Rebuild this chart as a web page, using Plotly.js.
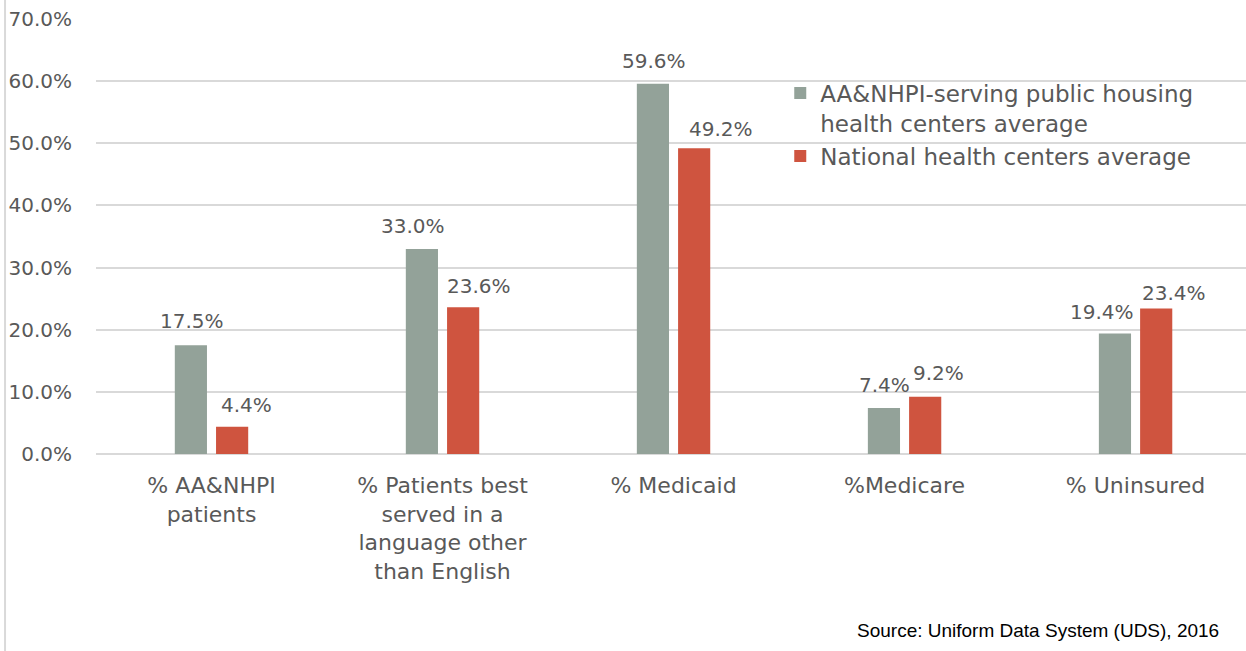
<!DOCTYPE html>
<html>
<head>
<meta charset="utf-8">
<script src="https://cdn.plot.ly/plotly-3.0.1.min.js"></script>
<style>
html,body{margin:0;padding:0;background:#fff;}
#chart{width:1246px;height:651px;}
</style>
</head>
<body>
<div id="chart"></div>
<script>
const categories = [
  "% AA&NHPI<br>patients",
  "% Patients best<br>served in a<br>language other<br>than English",
  "% Medicaid",
  "%Medicare",
  "% Uninsured"
];
const seriesNames = [
  "AA&NHPI-serving public housing<br>health centers average",
  "National health centers average"
];
const aanhpiValues = [17.5, 33.0, 59.6, 7.4, 19.4];
const nationalValues = [4.4, 23.6, 49.2, 9.2, 23.4];
const yTicks = [0, 10, 20, 30, 40, 50, 60, 70];
const sourceText = "Source: Uniform Data System (UDS), 2016";

const FONT = "DejaVu Sans, sans-serif";
const TXT = "#595959";
const COLORS = ["#93A299", "#CF543F"];

// label placement styling (pixel nudges relative to each bar centre / top)
const labelStyle = [
  {bar: -20.5, dx: [1, -9, 1, 0, -13], gap: [18, 17, 17, 17, 15]},
  {bar: 20.5, dx: [14, 16, 27, 13, 18], gap: [16, 15, 13, 18, 10]}
];

const series = [aanhpiValues, nationalValues];
const data = series.map((vals, s) => ({
  type: "bar",
  name: seriesNames[s],
  x: categories,
  y: vals,
  marker: {color: COLORS[s], line: {width: 0}},
  hoverinfo: "skip"
}));

const annotations = [];
series.forEach((vals, s) => {
  vals.forEach((v, i) => {
    annotations.push({
      xref: "x", yref: "y",
      x: i, y: v,
      text: v.toFixed(1) + "%",
      showarrow: false,
      xanchor: "center", yanchor: "bottom",
      xshift: labelStyle[s].bar + labelStyle[s].dx[i],
      yshift: labelStyle[s].gap[i] - 8,
      font: {family: FONT, size: 20, color: TXT}
    });
  });
});
annotations.push({
  text: sourceText,
  xref: "paper", yref: "paper",
  x: 0.9785, y: -0.405, xanchor: "right", yanchor: "middle",
  showarrow: false,
  font: {family: "Liberation Sans, Arial, sans-serif", size: 19, color: "#000"}
});

const layout = {
  width: 1246, height: 651,
  margin: {l: 96, r: 0, t: 19, b: 197},
  paper_bgcolor: "#fff", plot_bgcolor: "#fff",
  font: {family: FONT, size: 20, color: TXT},
  barmode: "group",
  bargap: 0.643,
  bargroupgap: 0.22,
  showlegend: true,
  legend: {
    x: 0.595, y: 0.879, xanchor: "left", yanchor: "top",
    bgcolor: "rgba(0,0,0,0)",
    font: {family: FONT, size: 23, color: TXT},
    valign: "top",
    tracegroupgap: 0
  },
  xaxis: {
    type: "category",
    range: [-0.5, 4.478],
    showgrid: false,
    showline: false,
    zeroline: false,
    ticks: "",
    tickfont: {family: FONT, size: 22, color: TXT},
    ticklabelstandoff: 16,
    fixedrange: true
  },
  yaxis: {
    range: [0, 70],
    tickvals: yTicks,
    ticktext: yTicks.map(v => v.toFixed(1) + "%"),
    showgrid: true,
    gridcolor: "#D9D9D9",
    gridwidth: 2,
    zeroline: true,
    zerolinecolor: "#D9D9D9",
    zerolinewidth: 2,
    showline: false,
    ticks: "",
    tickfont: {family: FONT, size: 20, color: TXT},
    ticklabelstandoff: 23,
    fixedrange: true
  },
  shapes: [{
    type: "line", xref: "paper", yref: "paper",
    x0: -0.0791, x1: -0.0791, y0: -0.46, y1: 1.06,
    line: {color: "#D9D9D9", width: 2}
  }],
  annotations: annotations
};

Plotly.newPlot("chart", data, layout, {displayModeBar: false, staticPlot: true});
</script>
</body>
</html>
